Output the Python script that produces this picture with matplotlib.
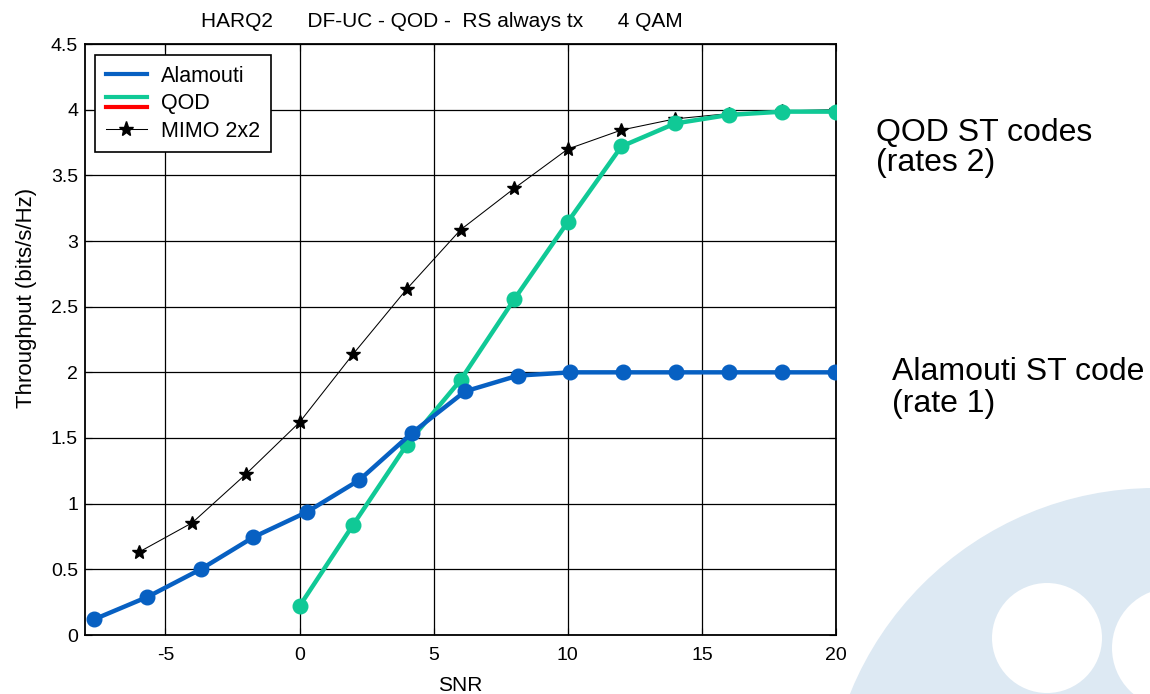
import matplotlib
matplotlib.use("Agg")
import matplotlib.pyplot as plt
from matplotlib.lines import Line2D
from matplotlib.legend_handler import HandlerBase
from matplotlib.patches import Circle

plt.rcParams['font.family'] = ['Liberation Sans', 'DejaVu Sans']
plt.rcParams['axes.unicode_minus'] = False

# Данные
snr_alamouti = [-7.65, -5.67, -3.69, -1.72, 0.26, 2.23, 4.2, 6.17, 8.14, 10.1, 12.07, 14.03, 16.0, 17.99, 19.95]
thr_alamouti = [0.12, 0.29, 0.50, 0.745, 0.935, 1.18, 1.54, 1.855, 1.975, 2.0, 2.0, 2.0, 2.0, 2.0, 2.0]

snr_qod = [0, 2, 4, 6, 8, 10, 12, 14, 16, 18, 20]
thr_qod = [0.22, 0.84, 1.45, 1.94, 2.555, 3.145, 3.72, 3.895, 3.96, 3.985, 3.985]

snr_mimo = [-6, -4, -2, 0, 2, 4, 6, 8, 10, 12, 14, 16, 18, 20]
thr_mimo = [0.63, 0.855, 1.225, 1.62, 2.14, 2.635, 3.085, 3.40, 3.70, 3.845, 3.93, 3.97, 3.99, 4.0]

x_ticks = [-5, 0, 5, 10, 15, 20]
y_ticks = [0, 0.5, 1, 1.5, 2, 2.5, 3, 3.5, 4, 4.5]
y_ticklabels = ['0', '0.5', '1', '1.5', '2', '2.5', '3', '3.5', '4', '4.5']

BLUE = '#0760c2'
GREEN = '#10c996'
RED = '#ff0000'


class TwoLineHandler(HandlerBase):
    # в легенде у QOD две линии: зелёная над красной
    def create_artists(self, legend, orig_handle, xdescent, ydescent,
                       width, height, fontsize, trans):
        y_mid = height / 2 - ydescent
        top = Line2D([-xdescent, width - xdescent], [y_mid + 0.34 * height] * 2,
                     color=GREEN, lw=3, transform=trans)
        bot = Line2D([-xdescent, width - xdescent], [y_mid - 0.34 * height] * 2,
                     color=RED, lw=3, transform=trans)
        return [top, bot]


fig = plt.figure(figsize=(11.5, 6.94), dpi=100)

# фоновый логотип в правом нижнем углу (в пикселях картинки)
bg = fig.add_axes([0, 0, 1, 1], zorder=-1)
bg.set_xlim(0, 1150)
bg.set_ylim(694, 0)
bg.axis('off')
bg.add_patch(Circle((1155, 817), 329, color='#dde9f3', lw=0))
bg.add_patch(Circle((1047, 638), 55, color='white', lw=0))
bg.add_patch(Circle((1172, 648), 60, color='white', lw=0))

ax = fig.add_axes([85 / 1150, 1 - 635 / 694, (836 - 85) / 1150, (635 - 44) / 694])

ax.plot(snr_mimo, thr_mimo, color='black', lw=0.75, marker='*', markersize=10,
        label='MIMO 2x2', zorder=3)
ax.plot(snr_qod, thr_qod, color=GREEN, lw=3.2, marker='o', markersize=10.5,
        label='QOD', zorder=4)
ax.plot(snr_alamouti, thr_alamouti, color=BLUE, lw=3.2, marker='o', markersize=10.5,
        label='Alamouti', zorder=5)

ax.set_xlim(-8, 20)
ax.set_ylim(0, 4.5)
ax.set_xticks(x_ticks)
ax.set_yticks(y_ticks)
ax.set_yticklabels(y_ticklabels)
ax.grid(True, color='black', lw=0.9)
ax.tick_params(direction='in', top=True, right=True, length=5, labelsize=14)
ax.tick_params(axis='x', pad=9)
ax.tick_params(axis='y', pad=5)
for s in ax.spines.values():
    s.set_linewidth(1.3)

ax.set_xlabel('SNR', fontsize=15, labelpad=8)
ax.set_ylabel('Throughput (bits/s/Hz)', fontsize=16)
ax.yaxis.set_label_coords(-0.064, 0.57)
ax.set_title('HARQ2      DF-UC - QOD -  RS always tx      4 QAM', fontsize=15, pad=12, x=0.475)

h_al = Line2D([], [], color=BLUE, lw=3)
h_qod = object()
h_mimo = Line2D([], [], color='black', lw=0.75, marker='*', markersize=11)
leg = ax.legend([h_al, h_qod, h_mimo], ['Alamouti', 'QOD', 'MIMO 2x2'],
                handler_map={h_qod: TwoLineHandler()},
                loc='upper left', bbox_to_anchor=(0.0133, 0.9814), borderaxespad=0,
                fontsize=15.5, fancybox=False, edgecolor='black', framealpha=1,
                handlelength=1.9, handletextpad=0.65, borderpad=0.5, labelspacing=0.3)
leg.get_frame().set_linewidth(1.2)

fig.text(876 / 1150, 1 - 148 / 694, 'QOD ST codes\n(rates 2)', fontsize=23,
         va='center', ha='left', linespacing=1.0)
fig.text(892 / 1150, 1 - 388 / 694, 'Alamouti ST code\n(rate 1)', fontsize=23,
         va='center', ha='left', linespacing=1.05)

fig.savefig('out.png', dpi=100)
